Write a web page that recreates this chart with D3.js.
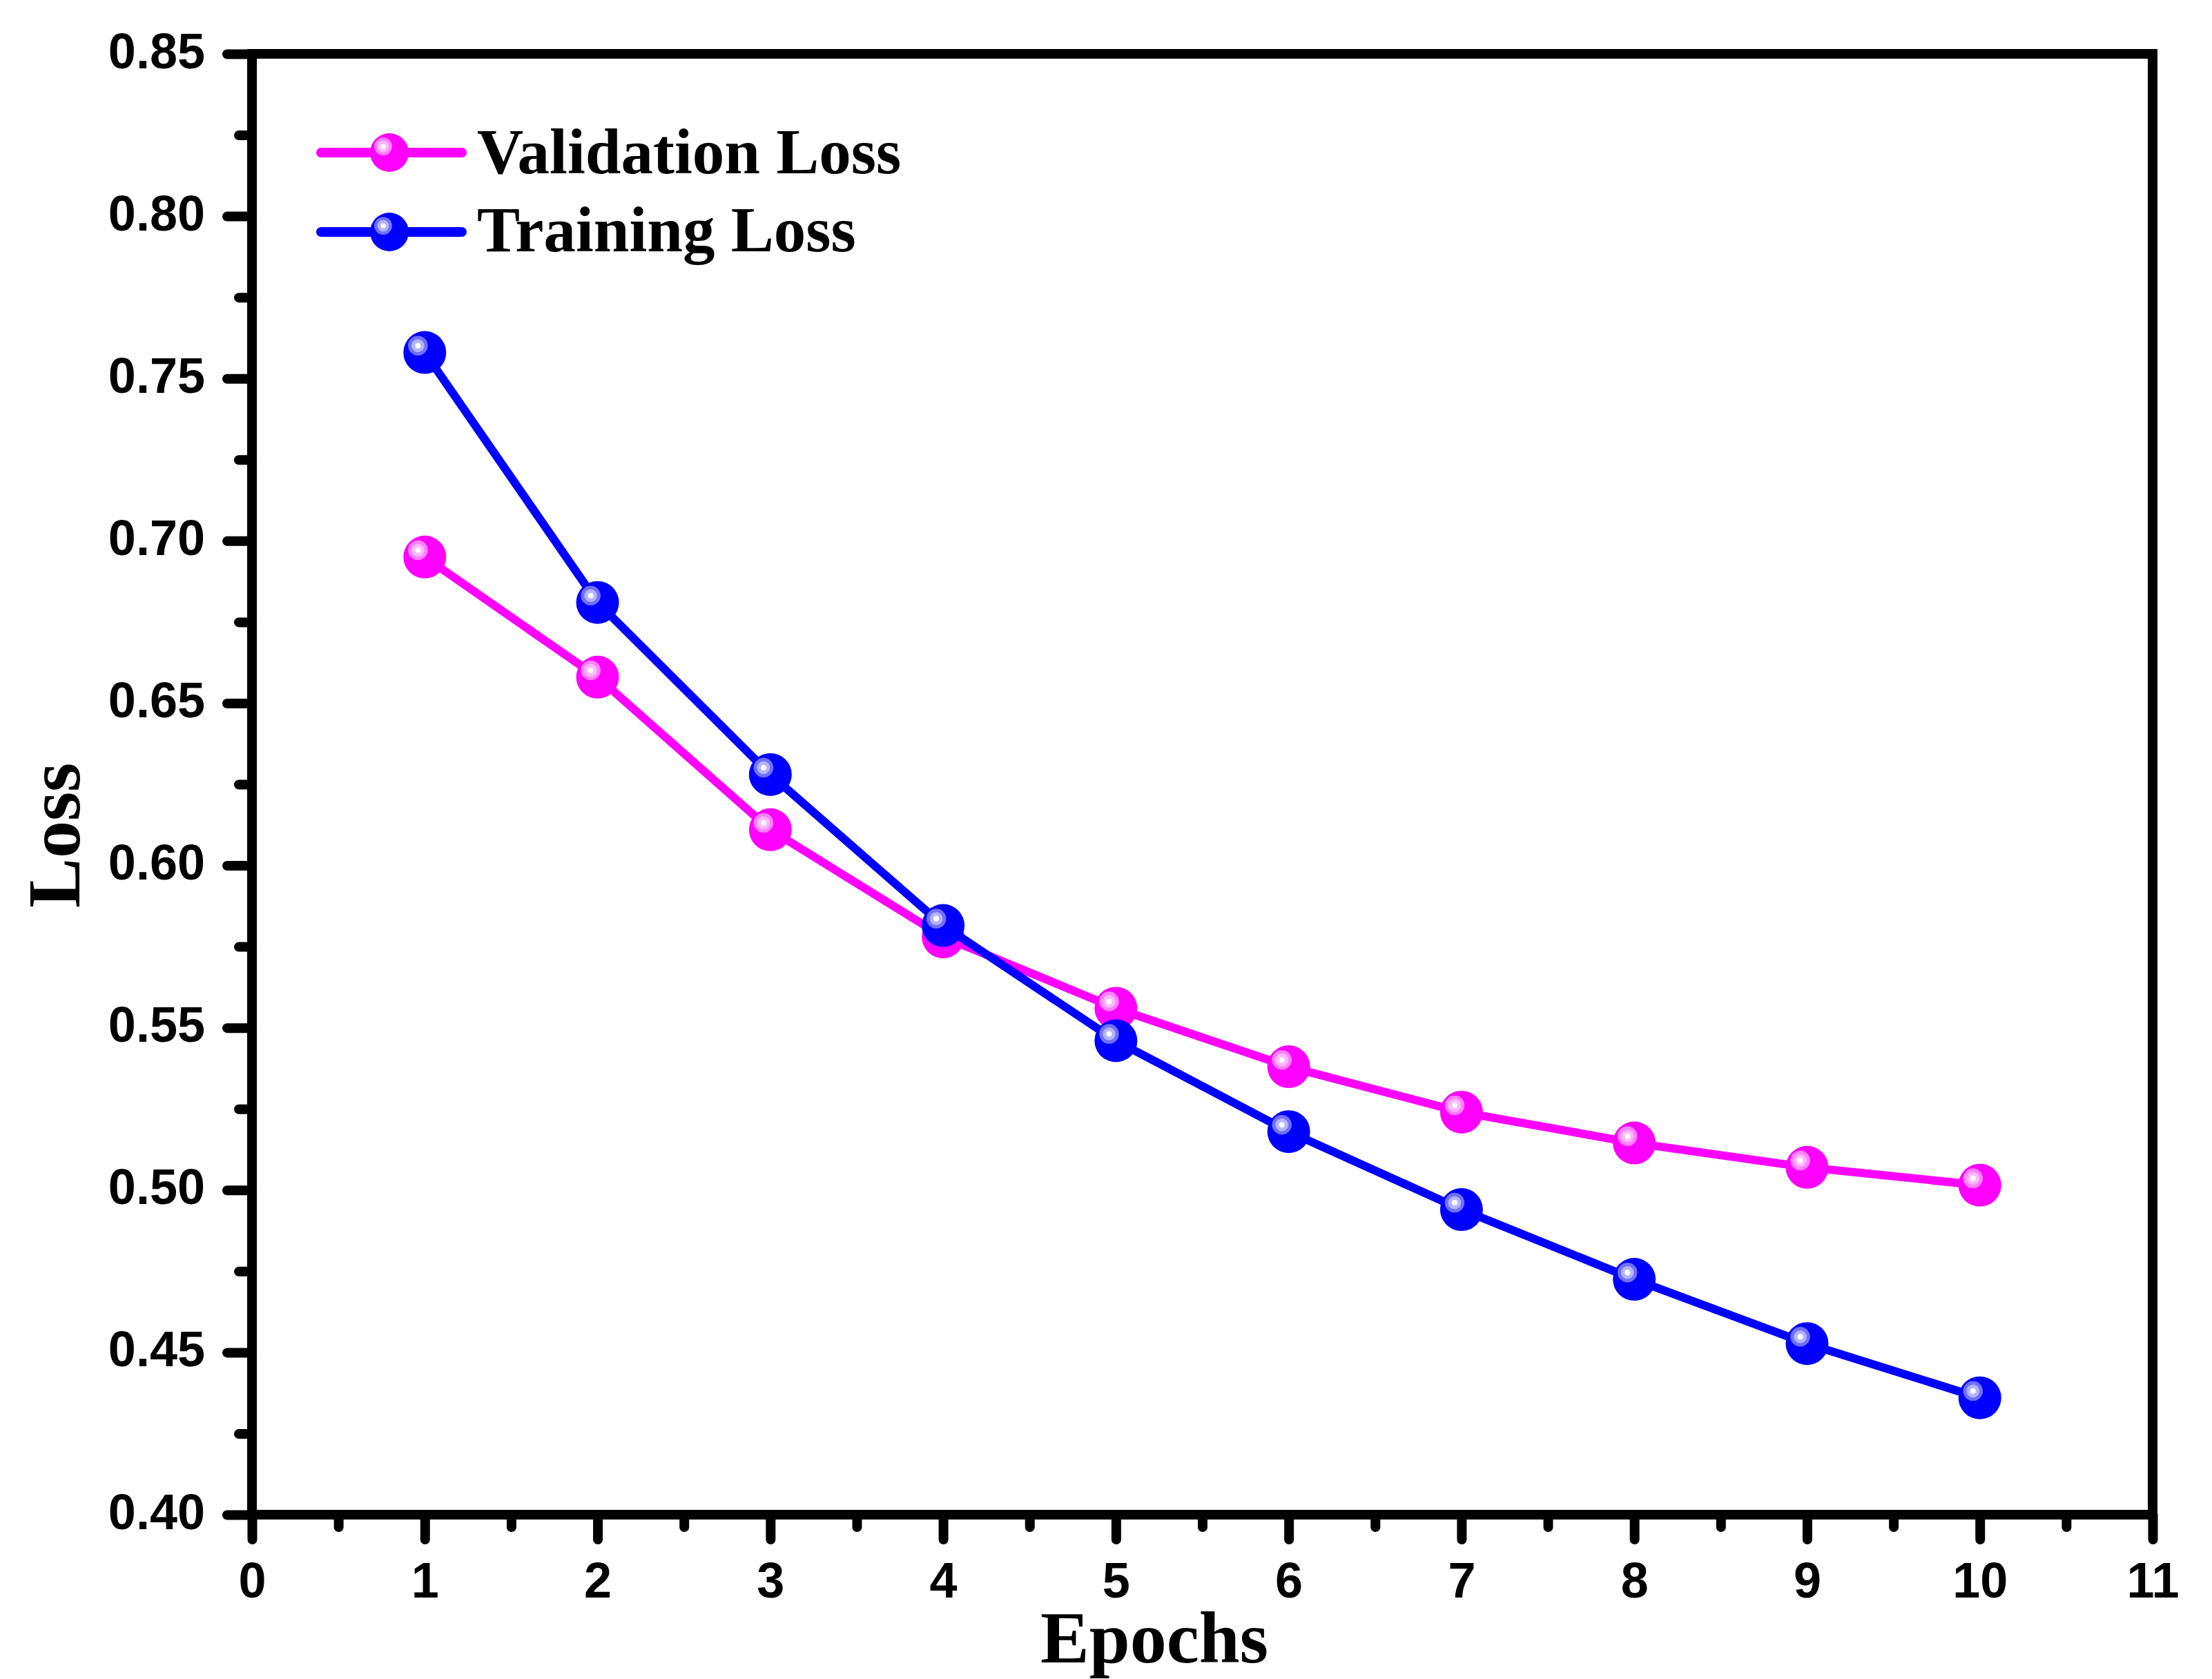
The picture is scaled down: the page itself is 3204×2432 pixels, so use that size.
<!DOCTYPE html>
<html>
<head>
<meta charset="utf-8">
<script src="https://cdn.jsdelivr.net/npm/d3@7"></script>
<style>
  body { margin: 0; background: #fff; }
  svg { display: block; }
</style>
</head>
<body>
<div class="chart-div"></div>
<script>
const epochs = [1, 2, 3, 4, 5, 6, 7, 8, 9, 10];
const validationLoss = [0.695, 0.658, 0.611, 0.578, 0.556, 0.538, 0.524, 0.5145, 0.507, 0.5015];
const trainingLoss = [0.758, 0.681, 0.628, 0.5815, 0.546, 0.518, 0.494, 0.4725, 0.4527, 0.436];
const xTicks = [0, 1, 2, 3, 4, 5, 6, 7, 8, 9, 10, 11];
const xMinor = [0.5, 1.5, 2.5, 3.5, 4.5, 5.5, 6.5, 7.5, 8.5, 9.5, 10.5];
const yTicks = [0.40, 0.45, 0.50, 0.55, 0.60, 0.65, 0.70, 0.75, 0.80, 0.85];
const yMinor = [0.425, 0.475, 0.525, 0.575, 0.625, 0.675, 0.725, 0.775, 0.825];

const series = [
  { name: "Validation Loss", values: validationLoss, color: "#ff00ff", ring1: "#ff80ff", ring2: "#ffb8ff" },
  { name: "Training Loss", values: trainingLoss, color: "#0000ff", ring1: "#7070ff", ring2: "#b4b4ff" }
];

const w = 3204;
const h = 2432;
const padLeft = 365, padRight = 3118, padTop = 78, padBottom = 2194;

const svg = d3.select(".chart-div")
    .append("svg")
    .attr("width", w)
    .attr("height", h);

svg.append("rect").attr("width", w).attr("height", h).attr("fill", "#fff");

const x = d3.scaleLinear().domain([0, 11]).range([padLeft, padRight]);
const y = d3.scaleLinear().domain([0.40, 0.85]).range([padBottom, padTop]);

const sansFont = "'Liberation Sans', Arial, sans-serif";
const serifFont = "'Liberation Serif', 'Times New Roman', serif";

// axes (ticks only, frame drawn separately)
function styleAxis(g) {
  g.select(".domain").remove();
  g.selectAll(".tick line")
    .attr("stroke", "#000")
    .attr("stroke-width", 14)
    .attr("stroke-linecap", "round");
}

svg.append("g")
    .attr("transform", `translate(0,${padBottom})`)
    .call(d3.axisBottom(x).tickValues(xMinor).tickSize(18).tickFormat(""))
    .call(styleAxis);

const xAxisG = svg.append("g")
    .attr("transform", `translate(0,${padBottom})`)
    .call(d3.axisBottom(x).tickValues(xTicks).tickSize(36).tickFormat(d3.format("d")))
    .call(styleAxis);
xAxisG.selectAll(".tick text")
    .attr("y", 120)
    .attr("dy", null)
    .attr("fill", "#000")
    .style("font-family", sansFont)
    .style("font-weight", "bold")
    .style("font-size", "72px");

svg.append("g")
    .attr("transform", `translate(${padLeft},0)`)
    .call(d3.axisLeft(y).tickValues(yMinor).tickSize(19).tickFormat(""))
    .call(styleAxis);

const yAxisG = svg.append("g")
    .attr("transform", `translate(${padLeft},0)`)
    .call(d3.axisLeft(y).tickValues(yTicks).tickSize(36).tickFormat(d3.format(".2f")))
    .call(styleAxis);
yAxisG.selectAll(".tick text")
    .attr("x", -68)
    .attr("y", 20)
    .attr("dy", null)
    .attr("fill", "#000")
    .style("font-family", sansFont)
    .style("font-weight", "bold")
    .style("font-size", "72px");

// frame
svg.append("rect")
    .attr("x", x(0))
    .attr("y", y(0.85))
    .attr("width", x(11) - x(0))
    .attr("height", y(0.40) - y(0.85))
    .attr("fill", "none")
    .attr("stroke", "#000")
    .attr("stroke-width", 14);

// axis titles
svg.append("text")
    .attr("transform", "translate(115,1210) rotate(-90)")
    .attr("text-anchor", "middle")
    .style("font-family", serifFont)
    .style("font-weight", "bold")
    .style("font-size", "108px")
    .text("Loss");

svg.append("text")
    .attr("x", 1672)
    .attr("y", 2408)
    .attr("text-anchor", "middle")
    .style("font-family", serifFont)
    .style("font-weight", "bold")
    .style("font-size", "106px")
    .text("Epochs");

// shiny ball marker
function ball(g, cx, cy, r, s) {
  g.append("circle").attr("cx", cx).attr("cy", cy).attr("r", r).attr("fill", s.color);
  const hx = cx - r * 0.32, hy = cy - r * 0.32;
  g.append("circle").attr("cx", hx).attr("cy", hy).attr("r", r * 0.46).attr("fill", s.ring1);
  g.append("circle").attr("cx", hx).attr("cy", hy).attr("r", r * 0.30).attr("fill", s.ring2);
  g.append("circle").attr("cx", hx).attr("cy", hy).attr("r", r * 0.13).attr("fill", "#fff");
}

const line = d3.line()
    .x((d, i) => x(epochs[i]))
    .y(d => y(d));

series.forEach(s => {
  svg.append("path")
      .datum(s.values)
      .attr("d", line)
      .attr("fill", "none")
      .attr("stroke", s.color)
      .attr("stroke-width", 12)
      .attr("stroke-linejoin", "round");
  const mg = svg.append("g");
  s.values.forEach((v, i) => ball(mg, x(epochs[i]), y(v), 31, s));
});

// legend
const legendRows = [221, 336];
const textBase = [251, 364];
series.forEach((s, i) => {
  const lg = svg.append("g");
  lg.append("line")
      .attr("x1", 465).attr("x2", 669)
      .attr("y1", legendRows[i]).attr("y2", legendRows[i])
      .attr("stroke", s.color)
      .attr("stroke-width", 14)
      .attr("stroke-linecap", "round");
  ball(lg, 564, legendRows[i], 28, s);
  lg.append("text")
      .attr("x", 691)
      .attr("y", textBase[i])
      .style("font-family", serifFont)
      .style("font-weight", "bold")
      .style("font-size", "93px")
      .text(s.name);
});
</script>
</body>
</html>
